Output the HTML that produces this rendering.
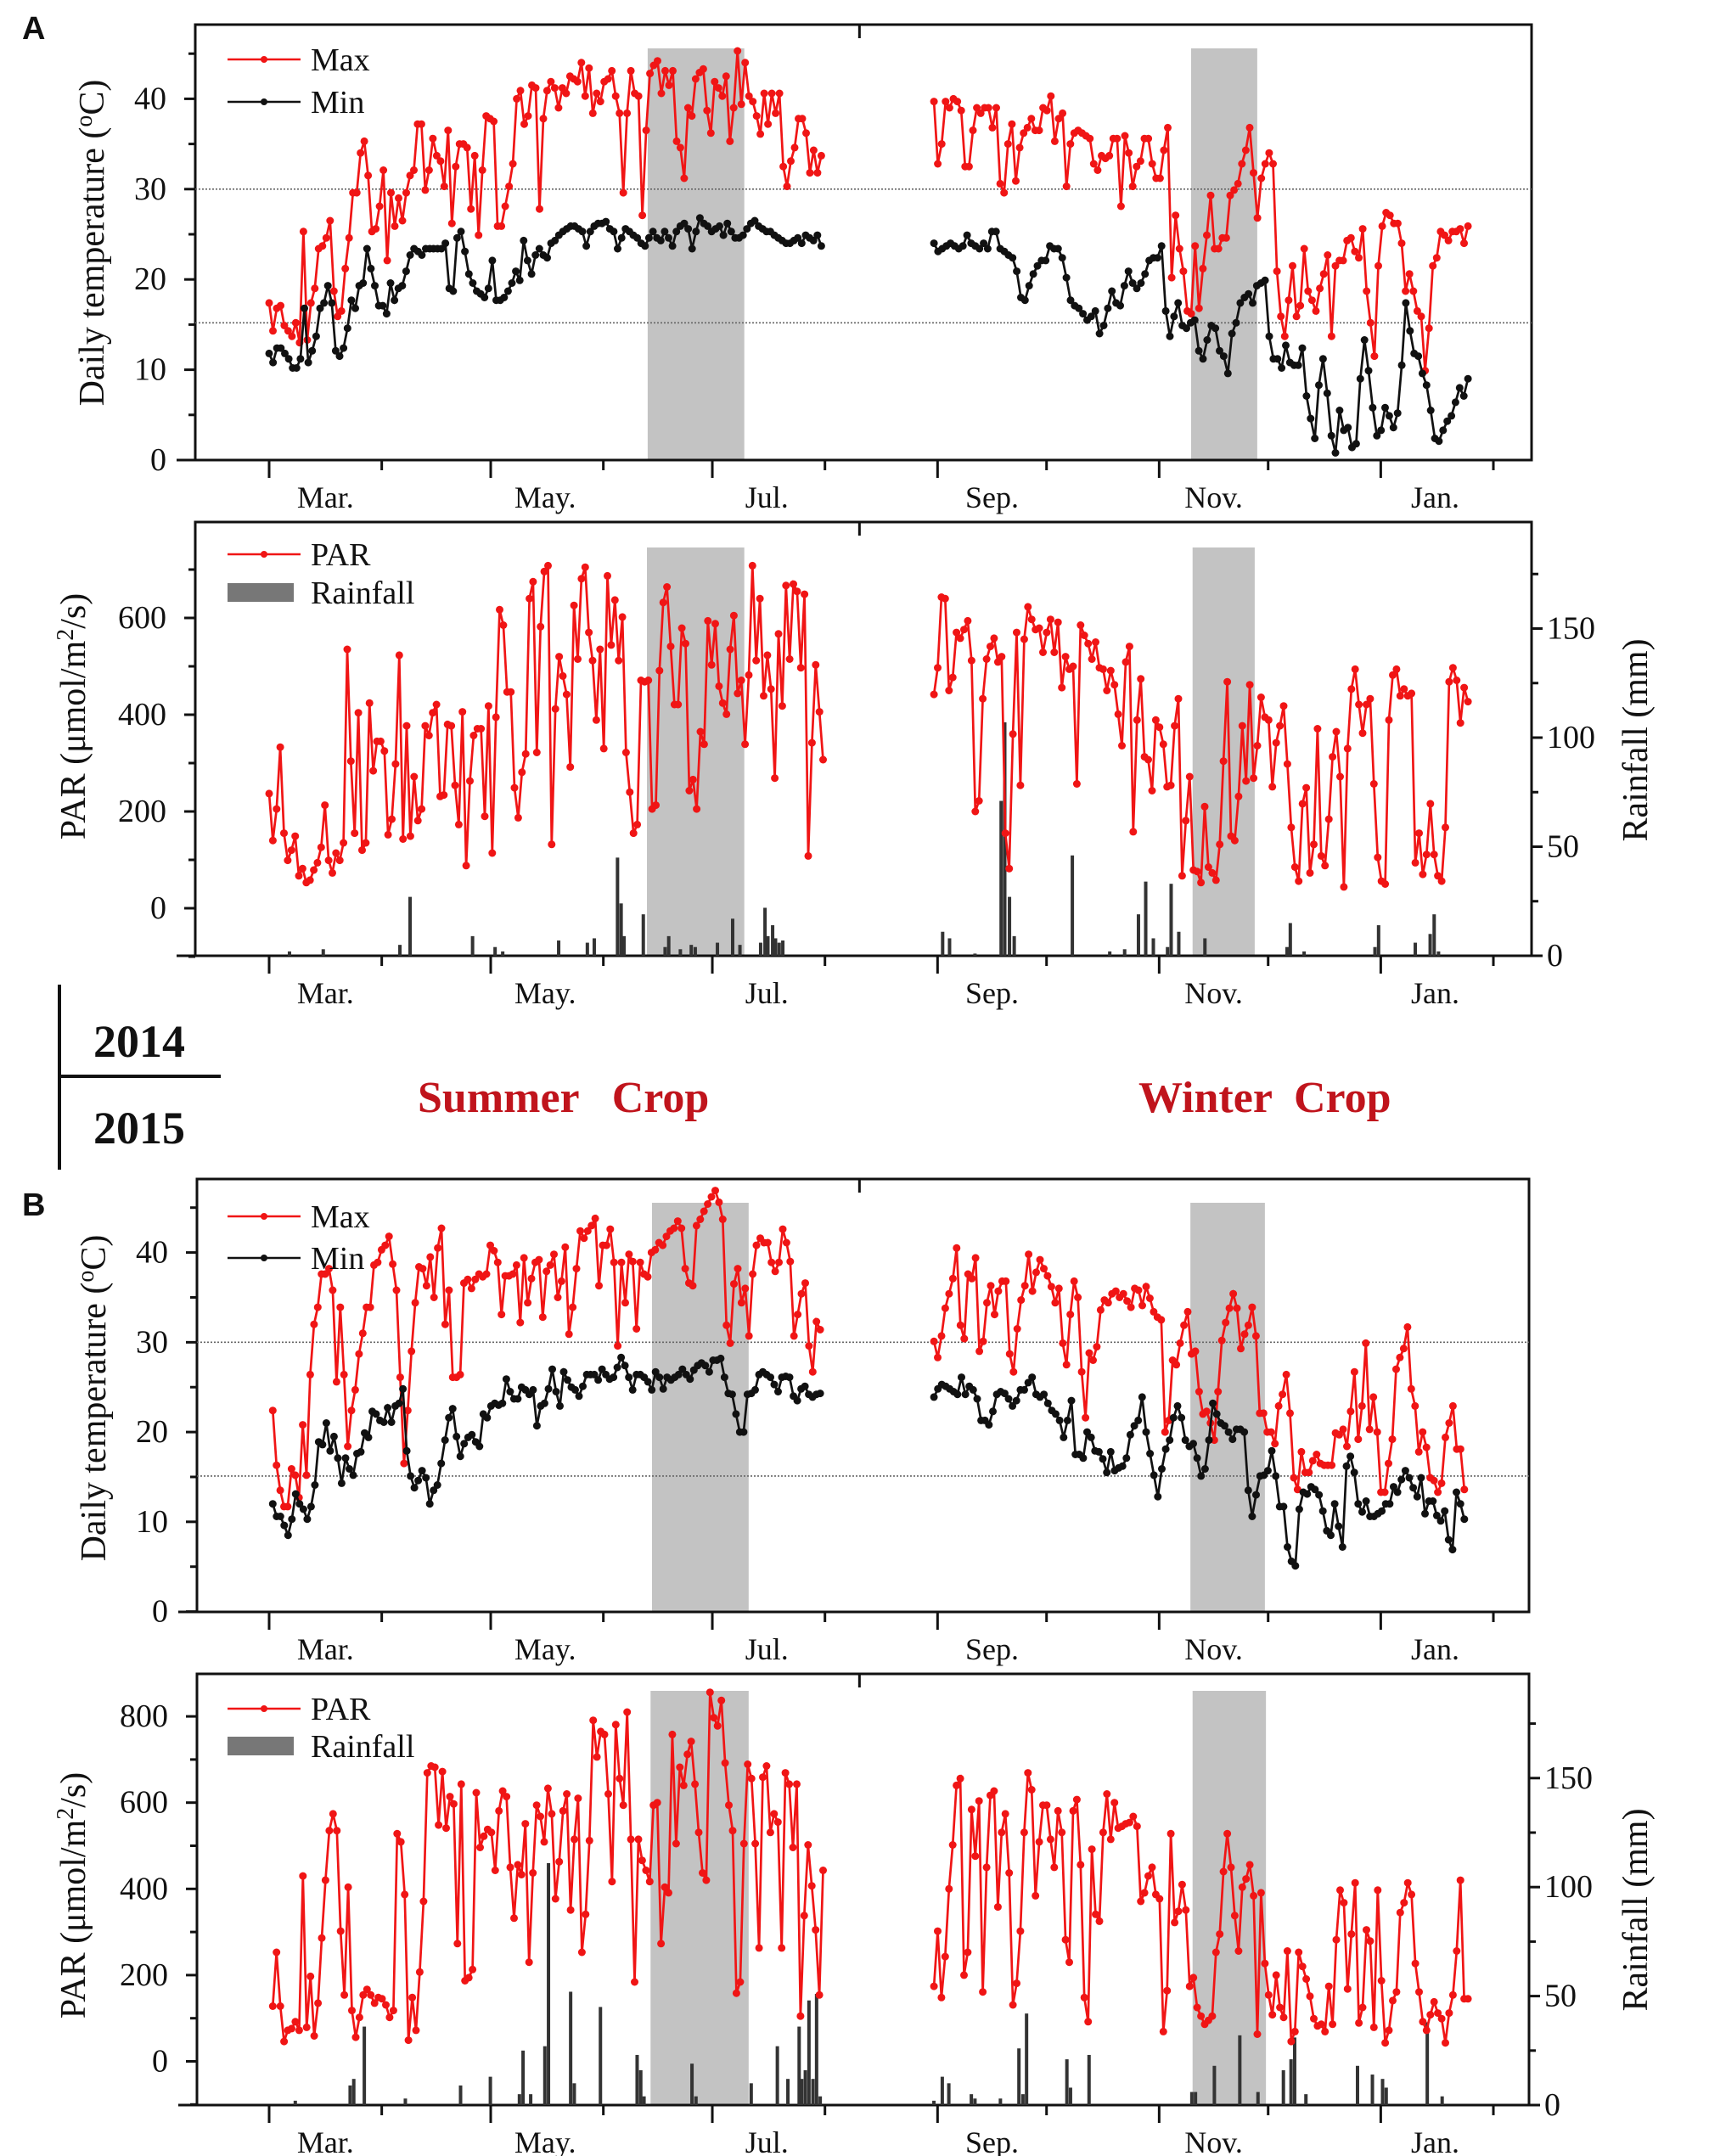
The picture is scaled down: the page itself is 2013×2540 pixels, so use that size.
<!DOCTYPE html>
<html><head><meta charset="utf-8"><title>Daily temperature, PAR and rainfall 2014–2015</title>
<style>
html,body{margin:0;padding:0;background:#fff;}
svg{display:block;font-family:"Liberation Serif",serif;}
</style></head>
<body>
<svg id="fig" xmlns="http://www.w3.org/2000/svg" width="2013" height="2540" viewBox="0 0 2013 2540"></svg>
<script>
// ---------------- DATA ----------------
const monthLabels = ["Mar.","May.","Jul.","Sep.","Nov.","Jan."];
const monthLabelDays = [15.5,76,137,199,260,321];
const monthTickDays = [0,31,61,92,122,153,184,214,245,275,306,337];

// Panel A (2014)
const maxA_sum = [17.4,14.3,16.8,17.1,14.9,14.3,13.7,15.2,13.0,25.3,13.3,17.4,19.0,23.4,23.7,24.6,26.5,18.7,15.9,16.5,21.2,24.6,29.6,29.6,34.0,35.3,31.5,25.3,25.6,28.1,32.1,22.1,29.6,25.9,29.0,26.5,29.6,31.5,32.1,37.2,37.2,29.9,32.1,35.6,33.7,33.1,30.3,36.5,26.2,32.5,35.0,35.0,34.6,27.8,33.7,24.9,32.1,38.1,37.8,37.5,25.9,25.9,28.1,30.3,32.8,40.0,40.9,37.2,38.1,41.5,41.2,27.8,37.8,40.9,41.9,41.2,39.0,41.2,40.6,42.5,42.2,41.9,44.0,40.3,43.4,38.4,40.6,39.7,41.9,42.2,43.1,40.3,38.4,29.6,38.4,43.1,40.6,40.3,27.1,36.5,42.8,43.7,44.2,40.6,43.1,41.5,43.1,35.3,34.6,31.2,39.0,38.1,42.2,42.9,43.3,38.7,36.2,41.9,41.2,40.3,42.5,35.3,39.0,45.3,39.4,44.0,40.3,39.7,38.1,36.1,40.6,37.2,40.6,38.4,40.6,32.5,30.3,33.1,34.6,37.8,37.8,36.2,31.8,34.3,31.8,33.7];
const minA_sum = [11.8,10.8,12.4,12.4,11.8,11.2,10.2,10.2,11.2,16.8,10.8,12.1,13.7,16.8,17.4,19.3,17.4,12.1,11.5,12.4,14.6,17.7,16.8,19.3,19.6,23.4,21.2,19.3,17.1,17.1,16.2,19.6,17.7,19.0,19.3,20.9,22.7,23.4,23.1,22.7,23.4,23.4,23.4,23.4,23.4,24.0,19.0,18.7,24.6,25.3,23.1,20.6,19.6,18.7,18.4,18.0,19.0,22.1,17.7,17.7,18.0,18.7,19.6,20.9,19.9,24.3,22.1,20.6,22.7,23.4,22.7,22.4,24.0,24.3,24.9,25.3,25.6,25.9,25.9,25.6,25.3,23.7,25.3,25.9,26.2,26.2,26.4,25.6,25.3,23.4,24.6,25.6,25.3,24.9,24.6,24.0,23.7,24.6,25.3,24.6,24.3,25.3,24.6,23.7,25.3,25.9,26.2,25.6,23.4,25.3,26.8,26.2,25.9,25.3,25.6,25.9,24.9,26.2,25.3,24.6,24.6,24.9,25.6,26.2,26.5,25.9,25.6,25.3,25.3,24.9,24.6,24.3,24.0,24.0,24.3,24.6,24.0,24.9,24.6,24.3,24.9,23.7];
const maxA_win = [39.7,32.8,35.0,39.7,39.0,40.0,39.7,38.7,32.5,32.5,36.5,39.0,38.4,39.0,39.0,36.8,39.0,30.6,29.6,35.0,37.2,30.9,34.6,36.2,36.8,37.8,36.5,36.5,39.0,38.7,40.3,35.3,37.8,38.4,30.3,35.0,36.2,36.5,36.2,35.9,35.6,32.8,32.1,33.7,33.4,33.7,35.6,35.6,28.1,35.9,34.0,30.3,32.5,33.1,35.6,35.6,32.8,31.2,31.2,34.3,36.8,20.2,27.1,23.4,20.9,16.5,16.2,23.7,16.8,21.2,24.9,29.3,23.4,23.4,24.6,24.6,29.3,29.9,30.6,32.8,34.3,36.8,31.8,26.8,31.2,32.8,34.0,32.8,20.9,15.9,13.7,17.7,21.5,15.9,17.1,23.4,18.7,17.7,16.5,19.0,20.6,22.7,13.7,21.5,22.1,22.1,24.3,24.6,23.1,22.4,25.6,18.7,15.2,11.5,21.5,25.9,27.4,27.1,26.2,26.2,24.0,18.7,20.6,18.7,16.5,15.9,9.9,14.6,21.5,22.4,25.3,24.9,24.3,25.3,25.3,25.6,24.0,25.9];
const minA_win = [24.0,23.1,23.4,23.7,24.0,23.7,23.4,23.7,24.9,24.0,23.7,23.4,24.0,23.4,25.3,25.3,23.4,23.1,22.7,22.4,20.9,18.0,17.7,19.3,20.6,21.5,22.1,22.1,23.7,23.4,23.4,22.4,20.2,17.7,17.1,16.8,16.2,15.5,15.9,16.5,14.0,14.9,16.8,18.7,17.4,17.1,19.3,20.9,19.6,19.0,19.6,20.6,22.1,22.4,22.4,23.7,16.5,13.7,15.9,17.4,14.9,14.6,15.2,15.5,12.1,11.2,13.3,14.9,14.6,12.1,11.5,9.6,14.0,15.2,17.4,18.0,18.4,17.4,19.3,19.6,19.9,13.7,11.2,11.2,10.2,12.7,10.8,10.5,10.5,12.4,7.1,4.6,2.4,8.3,11.2,7.4,2.7,0.8,5.5,3.3,3.6,1.4,1.8,9.0,13.3,9.9,5.8,2.7,3.3,5.8,4.9,3.6,5.2,10.5,17.4,14.3,11.8,11.5,9.6,8.3,5.5,2.4,2.1,3.3,4.3,4.9,6.4,8.0,7.1,9.0];
const parA_sum = [237,140,205,333,155,99,120,149,67,82,53,58,79,94,126,213,99,73,114,99,135,535,304,155,404,120,135,424,284,345,345,325,152,184,298,523,143,377,149,272,181,205,377,357,404,421,231,234,380,377,254,173,406,88,263,357,371,371,190,418,114,395,617,585,447,447,249,187,281,319,640,675,322,582,696,708,132,412,520,480,442,292,626,515,681,705,570,512,389,535,330,687,544,637,512,602,322,240,155,173,471,468,471,205,213,491,632,664,541,421,421,579,547,243,266,205,365,339,594,503,588,459,424,401,535,605,444,471,339,482,708,512,640,439,523,453,269,567,418,667,515,670,655,497,649,108,342,503,406,307];
const parA_win = [442,497,643,640,450,477,570,558,576,594,512,200,222,433,515,541,558,509,520,155,82,360,570,254,556,623,597,576,579,529,570,597,529,591,456,520,494,500,257,585,564,547,515,550,497,494,450,491,462,401,336,509,541,158,389,474,313,307,243,389,374,339,251,254,377,433,67,181,272,79,76,53,210,85,73,58,132,304,468,149,140,231,377,263,462,269,336,436,395,389,251,342,377,418,298,167,85,56,216,249,73,132,371,108,88,184,313,365,272,44,330,453,494,421,362,421,433,257,105,56,50,389,482,494,439,453,439,444,94,155,70,111,216,111,67,56,167,468,497,471,383,456,427];
const rainA_days = [5.6,14.9,36,38.8,56,62.2,64.3,79.7,87.6,89.5,95.9,96.9,97.7,103,109,110,113.2,116.2,117.3,123.4,127.6,129.6,135.3,136.5,137.3,138.6,139.4,140.4,141.4,185.4,187.3,194.3,201.5,202.5,203.8,205.1,221.1,231.4,235.5,239.3,241.3,243.4,247.3,248.3,250.4,257.6,280.2,281.1,284.9,304.4,305.4,315.5,319.6,320.7,321.9];
const rainA_mm = [2,3,5,27,9,4,2,7,6,8,45,24,9,19,4,9,3,5,4,6,17,5,6,22,9,14,8,6,7,11,8,1,71,107,27,9,46,2,3,19,34,8,4,33,11,8,4,15,2,4,14,6,10,19,2];

// Panel B (2015)
const maxB_sum = [22.4,16.3,13.5,11.7,11.7,15.9,15.2,12.7,20.8,15.2,26.4,32.0,33.9,37.6,37.6,38.2,35.8,25.6,33.9,26.4,18.4,22.4,24.7,28.7,31.0,33.9,33.9,38.6,38.9,40.3,40.8,41.8,38.7,35.8,26.1,16.5,22.4,29.0,34.4,38.4,38.2,36.3,39.5,35.0,40.5,42.7,32.0,35.8,26.1,26.1,26.4,36.6,37.0,36.0,37.0,37.6,37.3,37.6,40.8,40.2,38.9,33.1,37.4,37.4,37.6,38.6,32.2,39.4,34.4,37.1,38.9,39.2,32.8,37.9,38.6,39.8,35.0,36.8,40.6,30.9,33.9,38.2,42.4,41.6,42.4,43.0,43.8,36.3,40.8,40.8,42.6,38.9,29.6,38.9,34.4,39.8,39.0,31.5,38.9,37.6,37.3,40.0,40.3,41.1,40.8,41.8,42.4,42.7,43.5,42.7,38.2,36.6,36.3,43.0,43.7,44.6,45.4,46.2,46.9,45.6,43.7,31.9,29.9,36.5,38.2,34.4,36.0,30.7,37.6,40.8,41.6,41.1,41.1,38.9,37.9,38.9,42.6,41.1,39.0,30.7,33.1,35.4,36.6,29.6,26.7,32.3,31.4];
const minB_sum = [12.0,10.6,10.6,9.6,8.5,10.3,13.1,12.0,11.4,10.3,11.7,14.1,18.9,18.6,21.0,17.9,19.5,17.1,14.3,17.1,15.9,15.2,17.6,17.8,19.9,19.4,22.3,22.0,21.3,21.1,22.7,21.1,22.9,23.2,24.8,17.9,15.1,13.8,14.6,15.7,14.9,12.0,13.5,14.1,16.5,19.1,21.6,22.6,19.5,17.3,18.7,19.4,19.7,18.9,18.4,22.0,21.6,22.9,23.2,23.0,23.2,25.9,24.5,23.7,23.7,25.0,24.7,24.2,24.7,20.7,22.9,23.2,24.8,27.0,24.5,22.9,26.7,25.8,25.0,24.7,24.0,25.1,26.4,26.4,26.4,25.8,27.0,26.4,25.9,26.1,27.2,28.3,27.4,26.1,24.7,26.4,26.4,26.1,25.6,24.7,26.7,26.1,24.8,26.1,25.8,26.1,26.4,27.0,26.4,25.9,26.9,27.4,27.7,27.4,26.7,28.0,28.0,28.2,26.1,24.3,24.2,22.0,20.0,20.0,24.2,24.3,24.7,26.4,26.7,26.4,26.1,25.3,24.5,26.1,26.2,26.1,24.0,23.5,24.8,25.1,24.2,23.9,24.2,24.3];
const maxB_win = [30.1,28.3,30.7,33.8,35.4,37.1,40.5,31.9,30.4,37.6,37.1,39.4,29.0,30.1,34.4,36.3,33.1,35.7,36.8,36.8,28.7,26.7,31.5,34.7,36.3,39.8,35.7,37.8,39.2,38.2,37.4,36.2,34.4,36.0,29.9,27.5,33.1,36.8,35.0,26.7,21.6,28.8,28.0,29.5,33.6,34.7,34.4,35.4,35.7,35.0,35.4,34.6,33.9,36.0,35.8,34.1,36.2,34.9,33.4,32.8,32.5,20.0,21.3,28.0,27.5,29.9,31.9,33.4,28.7,29.0,24.5,22.0,22.3,21.0,19.1,24.5,30.2,32.2,33.8,35.4,33.8,29.3,30.9,31.9,33.9,30.7,22.1,22.1,20.0,20.0,18.7,22.9,24.2,26.4,22.1,14.9,13.6,17.8,15.5,15.5,16.8,17.5,16.5,16.3,16.3,16.3,19.9,19.7,20.3,18.4,22.3,26.7,19.2,22.9,29.9,20.3,23.9,20.0,13.3,13.3,16.5,19.2,27.0,28.3,29.3,31.7,24.8,22.9,17.8,20.0,18.3,14.9,14.6,13.3,14.3,19.4,21.0,22.9,18.1,18.1,13.6];
const minB_win = [23.9,24.8,25.3,25.1,24.8,24.5,24.2,26.1,24.2,25.1,24.7,23.7,21.3,21.3,20.8,22.3,24.2,24.5,24.3,23.7,22.9,23.5,24.7,24.7,25.5,26.1,24.2,23.9,24.2,23.2,22.4,22.0,21.3,19.4,21.3,23.5,17.5,17.5,17.1,20.0,19.4,17.9,17.8,17.0,15.5,17.8,15.7,16.0,16.2,17.1,19.7,20.7,21.3,23.9,20.0,17.6,15.2,12.8,15.9,18.1,19.1,21.6,22.9,21.6,19.1,18.4,18.7,17.1,15.1,15.9,19.1,23.2,22.0,21.0,20.7,20.0,19.2,20.3,20.3,20.0,13.5,10.6,13.0,15.1,15.2,15.7,17.9,15.1,11.7,11.7,7.2,5.6,5.1,11.4,13.3,13.1,13.9,13.6,13.0,11.2,9.0,8.5,12.0,9.5,7.2,16.2,17.3,15.5,12.0,11.1,12.3,10.6,10.6,10.9,11.2,12.0,12.0,13.9,13.3,14.7,15.7,14.9,13.8,12.8,14.9,10.9,12.3,12.3,10.7,10.1,11.2,8.0,6.9,13.3,12.0,10.3];
const parB_sum = [128,253,128,46,72,76,92,72,430,79,197,59,135,286,420,535,574,535,302,154,404,118,56,102,154,167,154,135,148,145,131,102,118,528,509,387,49,148,72,207,371,669,685,682,548,672,541,614,597,273,643,187,194,213,623,496,522,538,531,443,581,627,614,450,332,456,433,551,230,437,594,568,509,633,574,377,463,581,620,351,515,610,253,341,512,791,706,765,758,620,417,781,656,594,810,515,184,515,466,443,417,594,600,273,404,391,758,505,682,640,712,742,643,531,437,420,856,797,778,837,692,594,535,158,184,505,689,656,505,263,659,685,531,574,555,263,669,643,496,643,105,338,502,407,305,154,443];
const parB_win = [174,302,148,243,400,502,640,656,200,253,584,476,604,161,450,617,627,358,531,574,437,131,181,302,531,669,630,384,509,594,594,515,450,581,531,282,230,581,607,456,148,92,492,341,325,531,620,515,600,541,545,551,554,568,545,371,391,430,450,387,377,69,164,528,322,348,410,351,174,194,125,105,86,95,105,253,295,440,528,450,338,256,404,423,456,384,63,391,227,154,108,200,125,102,256,46,69,253,220,191,151,99,82,86,69,174,86,282,397,368,168,295,414,89,125,305,279,79,397,187,43,72,141,161,345,368,414,387,227,161,92,72,108,138,112,99,43,112,154,256,420,145,145];
const rainB_days = [7.2,22.3,23.3,26.2,37.5,52.7,60.9,68.9,69.9,72,75.9,76.9,83,84,91.2,101.3,102.3,103.2,116.4,117.5,132.7,139.9,142.8,145.9,146.6,147.6,148.6,149.7,150.7,151.7,183,185.3,187.1,193.3,194.3,201.3,206.4,207.5,208.5,219.6,220.6,225.7,254,255,260.2,267.2,272.2,279.2,281.3,282.3,285.4,299.6,303.7,306.5,307.5,318.8,322.9];
const rainB_mm = [2,9,12,36,3,9,13,5,25,5,27,111,52,10,45,23,16,4,19,4,10,27,12,36,12,16,48,12,51,4,2,13,10,5,3,3,26,5,42,21,8,23,6,6,18,32,6,16,21,31,5,18,14,12,8,38,4];

// ---------------- DRAWING ----------------
const NS = "http://www.w3.org/2000/svg";
const svg = document.getElementById("fig");
function mk(tag, attrs, parent){
  const e = document.createElementNS(NS, tag);
  for (const k in attrs) e.setAttribute(k, attrs[k]);
  (parent || svg).appendChild(e);
  return e;
}
function txt(str, attrs, parent){ const t = mk("text", attrs, parent); t.textContent = str; return t; }
const X = d => 317 + d * 4.279;
function spread(vals, d0, d1){ return vals.map((v,i)=>[d0 + i*(d1-d0)/(vals.length-1), v]); }
const RED = "#f01515";

function drawBox(p, name){
  const g = mk("g", {});
  
  
  p.shades.forEach((s,i)=>{
    const r = mk("rect", {x:X(s[0]), y:p.shTop, width:X(s[1])-X(s[0]), height:p.bottom-p.shTop, fill:"#c3c3c3"}, g);
    
    
  });
  const box = mk("rect", {x:p.left, y:p.top, width:p.right-p.left, height:p.bottom-p.top, fill:"none", stroke:"#111", "stroke-width":3}, g);
  
  
  const xa = mk("line", {x1:p.left-22, x2:p.right, y1:p.bottom, y2:p.bottom, stroke:"#111", "stroke-width":3}, g);
  
  
  const tt = mk("line", {x1:X(162.5), x2:X(162.5), y1:p.top, y2:p.top+16, stroke:"#111", "stroke-width":3}, g);
  
  
  monthTickDays.forEach((d,i)=>{
    const t = mk("line", {x1:X(d), x2:X(d), y1:p.bottom, y2:p.bottom + (i%2===0?21:12), stroke:"#111", "stroke-width":3}, g);
    
    
  });
  monthLabels.forEach((m,i)=>{
    const t = txt(m, {x:X(monthLabelDays[i]), y:p.bottom+56, "font-size":36, "text-anchor":"middle", fill:"#111"}, g);
    
    
  });
  return g;
}
function leftTicks(g, p, Y, majors, minors){
  minors.forEach(v=>{
    const t = mk("line", {x1:p.left-8, x2:p.left, y1:Y(v), y2:Y(v), stroke:"#111", "stroke-width":3}, g);
    
    
  });
  majors.forEach(v=>{
    const t = mk("line", {x1:p.left-13, x2:p.left, y1:Y(v), y2:Y(v), stroke:"#111", "stroke-width":3}, g);
    
    
    const l = txt(String(v), {x:p.left-34, y:Y(v)+12, "font-size":38, "text-anchor":"end", fill:"#111"}, g);
    
    
  });
}
function rightTicks(g, p, Y, majors, minors){
  minors.forEach(v=>{
    const t = mk("line", {x1:p.right, x2:p.right+8, y1:Y(v), y2:Y(v), stroke:"#111", "stroke-width":3}, g);
    
    
  });
  majors.forEach(v=>{
    const t = mk("line", {x1:p.right, x2:p.right+13, y1:Y(v), y2:Y(v), stroke:"#111", "stroke-width":3}, g);
    
    
    const l = txt(String(v), {x:p.right+18, y:Y(v)+12, "font-size":38, fill:"#111"}, g);
    
    
  });
}
function hline(g, p, y){
  const l = mk("line", {x1:p.left, x2:p.right, y1:y, y2:y, stroke:"#666", "stroke-width":1.6, "stroke-dasharray":"2,2"}, g);
  
  
}
function series(g, pts, Y, color, name){
  const sg = mk("g", {}, g);
  
  
  const pl = mk("polyline", {points: pts.map(q=>X(q[0]).toFixed(1)+","+Y(q[1]).toFixed(1)).join(" "), fill:"none", stroke:color, "stroke-width":2.7}, sg);
  
  
  pts.forEach(q=>{
    const c = mk("circle", {cx:X(q[0]).toFixed(1), cy:Y(q[1]).toFixed(1), r:4.5, fill:color}, sg);
    
    
  });
}
function bars(g, days, mm, Y0, k){
  days.forEach((d,i)=>{
    const h = mm[i]*k;
    const b = mk("rect", {x:X(d)-2, y:Y0-h, width:4, height:h, fill:"#333"}, g);
    
    
  });
}
function legendLine(g, x, y, color, label){
  const l = mk("line", {x1:x, x2:x+86, y1:y, y2:y, stroke:color, "stroke-width":2.4}, g);
  
  
  const c = mk("circle", {cx:x+43, cy:y, r:4, fill:color}, g);
  
  
  const t = txt(label, {x:x+98, y:y+13, "font-size":38, fill:"#111"}, g);
  
  
}
function legendRect(g, x, y, label){
  const r = mk("rect", {x:x, y:y-11, width:78, height:22, fill:"#777"}, g);
  
  
  const t = txt(label, {x:x+98, y:y+13, "font-size":38, fill:"#111"}, g);
  
  
}
function yTitle(g, x, y, name, builder){
  const t = mk("text", {x:0, y:0, "font-size":42, "text-anchor":"middle", fill:"#111", transform:`translate(${x},${y}) rotate(-90)`}, g);
  
  
  builder(t);
}
function tempTitle(t){
  t.appendChild(document.createTextNode("Daily temperature ("));
  const s = document.createElementNS(NS,"tspan"); s.setAttribute("dy","-14"); s.setAttribute("font-size","28"); s.textContent="o"; t.appendChild(s);
  const c = document.createElementNS(NS,"tspan"); c.setAttribute("dy","14"); c.textContent="C)"; t.appendChild(c);
}
function parTitle(t){
  t.appendChild(document.createTextNode("PAR (μmol/m"));
  const s = document.createElementNS(NS,"tspan"); s.setAttribute("dy","-14"); s.setAttribute("font-size","28"); s.textContent="2"; t.appendChild(s);
  const c = document.createElementNS(NS,"tspan"); c.setAttribute("dy","14"); c.textContent="/s)"; t.appendChild(c);
}

// ---- Panel A1
(function(){
  const p = {left:230,right:1804,top:29,bottom:542,shTop:57,shades:[[104.2,130.8],[253.8,272]]};
  const Y = v => 542 - v*10.64;
  const g = drawBox(p, 'panel-a-temperature');
  leftTicks(g, p, Y, [0,10,20,30,40], [5,15,25,35,45]);
  hline(g, p, Y(30)); hline(g, p, Y(15.2));
  series(g, spread(maxA_sum,0,152), Y, RED, 'max-temp-2014-summer');
  series(g, spread(minA_sum,0,152), Y, "#111", 'min-temp-2014-summer');
  series(g, spread(maxA_win,183,330), Y, RED, 'max-temp-2014-winter');
  series(g, spread(minA_win,183,330), Y, "#111", 'min-temp-2014-winter');
  legendLine(g, 268, 70, RED, "Max");
  legendLine(g, 268, 120, "#111", "Min");
  yTitle(g, 122, 286, 'y-axis-title', tempTitle);
})();
// ---- Panel A2
(function(){
  const p = {left:230,right:1804,top:615,bottom:1126,shTop:645,shades:[[104,130.8],[254.2,271.3]]};
  const Y = v => 1070 - v*0.57;
  const g = drawBox(p, 'panel-a-par-rainfall');
  leftTicks(g, p, Y, [0,200,400,600], [-100,100,300,500,700]);
  rightTicks(g, p, mm => 1126 - mm*2.57, [0,50,100,150], [25,75,125,175]);
  bars(g, rainA_days, rainA_mm, 1126, 2.57);
  series(g, spread(parA_sum,0,152.5), Y, RED, 'par-2014-summer');
  series(g, spread(parA_win,183,330), Y, RED, 'par-2014-winter');
  legendLine(g, 268, 653, RED, "PAR");
  legendRect(g, 268, 698, "Rainfall");
  yTitle(g, 100, 844, 'y-axis-title', parTitle);
  yTitle(g, 1940, 872, 'y2-axis-title', t=>{t.textContent="Rainfall (mm)";});
})();
// ---- Panel B1
(function(){
  const p = {left:232,right:1801,top:1389,bottom:1899,shTop:1417,shades:[[105.4,132],[253.6,274.1]]};
  const Y = v => 1898.6 - v*10.575;
  const g = drawBox(p, 'panel-b-temperature');
  leftTicks(g, p, Y, [0,10,20,30,40], [5,15,25,35,45]);
  hline(g, p, Y(30)); hline(g, p, Y(15.1));
  series(g, spread(maxB_sum,1,151.7), Y, RED, 'max-temp-2015-summer');
  series(g, spread(minB_sum,1,151.7), Y, "#111", 'min-temp-2015-summer');
  series(g, spread(maxB_win,183,329), Y, RED, 'max-temp-2015-winter');
  series(g, spread(minB_win,183,329), Y, "#111", 'min-temp-2015-winter');
  legendLine(g, 268, 1433, RED, "Max");
  legendLine(g, 268, 1482, "#111", "Min");
  yTitle(g, 124, 1647, 'y-axis-title', tempTitle);
})();
// ---- Panel B2
(function(){
  const p = {left:232,right:1801,top:1972,bottom:2480,shTop:1992,shades:[[105,132],[254.2,274.4]]};
  const Y = v => 2428.5 - v*0.508;
  const g = drawBox(p, 'panel-b-par-rainfall');
  leftTicks(g, p, Y, [0,200,400,600,800], [-100,100,300,500,700]);
  rightTicks(g, p, mm => 2480 - mm*2.568, [0,50,100,150], [25,75,125,175]);
  bars(g, rainB_days, rainB_mm, 2480, 2.568);
  series(g, spread(parB_sum,1,152.5), Y, RED, 'par-2015-summer');
  series(g, spread(parB_win,183,330), Y, RED, 'par-2015-winter');
  legendLine(g, 268, 2013, RED, "PAR");
  legendRect(g, 268, 2057, "Rainfall");
  yTitle(g, 100, 2233, 'y-axis-title', parTitle);
  yTitle(g, 1940, 2250, 'y2-axis-title', t=>{t.textContent="Rainfall (mm)";});
})();

// ---- Annotations
(function(){
  const g = mk("g", {});
  
  
  const a = txt("A", {x:26, y:46, "font-size":38, "font-weight":"bold", "font-family":"Liberation Sans, sans-serif", fill:"#111"}, g);
  
  
  const b = txt("B", {x:26, y:1432, "font-size":38, "font-weight":"bold", "font-family":"Liberation Sans, sans-serif", fill:"#111"}, g);
  
  
  const v = mk("line", {x1:70, x2:70, y1:1160, y2:1378, stroke:"#111", "stroke-width":4}, g);
  
  
  const h = mk("line", {x1:70, x2:260, y1:1268, y2:1268, stroke:"#111", "stroke-width":4}, g);
  
  
  const y1 = txt("2014", {x:110, y:1245, "font-size":54, "font-weight":"bold", fill:"#111"}, g);
  
  
  const y2 = txt("2015", {x:110, y:1347, "font-size":54, "font-weight":"bold", fill:"#111"}, g);
  
  
  const s = txt("Summer   Crop", {x:492, y:1310, "font-size":52, "font-weight":"bold", fill:"#c0141c"}, g);
  s.setAttribute("style","white-space:pre");
  
  
  const w = txt("Winter  Crop", {x:1341, y:1310, "font-size":52, "font-weight":"bold", fill:"#c0141c"}, g);
  w.setAttribute("style","white-space:pre");
  
  
})();
</script>
</body></html>
